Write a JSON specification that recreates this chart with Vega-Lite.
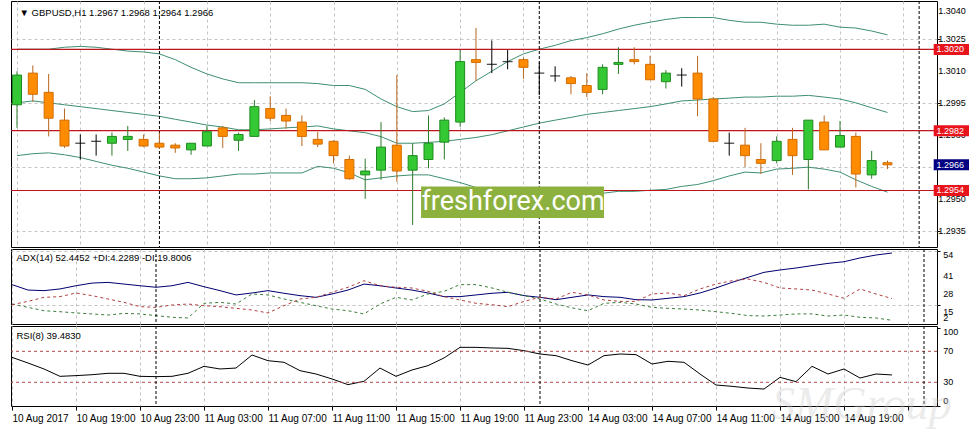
{
  "$schema": "https://vega.github.io/schema/vega-lite/v6.json",
  "background": "#ffffff",
  "padding": {"left": 9, "top": 0, "right": 0, "bottom": 0},
  "spacing": 0,
  "config": {
    "view": {"stroke": "#000000", "strokeWidth": 1},
    "axis": {"labelFont": "Liberation Sans", "labelFontSize": 10, "labelColor": "#000000", "tickColor": "#000000", "tickSize": 3, "domain": false, "gridColor": "#c4c4c4", "gridDash": [3, 3], "labelPadding": 2},
    "text": {"font": "Liberation Sans"}
  },
  "datasets": {
    "candles": [
      {"i":0,"o":1.29941,"h":1.30098,"l":1.29833,"c":1.30080},
      {"i":1,"o":1.30089,"h":1.30125,"l":1.29954,"c":1.29990},
      {"i":2,"o":1.29999,"h":1.30085,"l":1.29793,"c":1.29878},
      {"i":3,"o":1.29869,"h":1.29923,"l":1.29739,"c":1.29748},
      {"i":4,"o":1.29761,"h":1.29802,"l":1.29685,"c":1.29761},
      {"i":5,"o":1.29770,"h":1.29802,"l":1.29703,"c":1.29770},
      {"i":6,"o":1.29761,"h":1.29811,"l":1.29703,"c":1.29793},
      {"i":7,"o":1.29779,"h":1.29842,"l":1.29725,"c":1.29793},
      {"i":8,"o":1.29779,"h":1.29802,"l":1.29743,"c":1.29748},
      {"i":9,"o":1.29761,"h":1.29811,"l":1.29734,"c":1.29743},
      {"i":10,"o":1.29752,"h":1.29761,"l":1.29716,"c":1.29739},
      {"i":11,"o":1.29730,"h":1.29761,"l":1.29707,"c":1.29761},
      {"i":12,"o":1.29748,"h":1.29842,"l":1.29748,"c":1.29815},
      {"i":13,"o":1.29833,"h":1.29842,"l":1.29739,"c":1.29793},
      {"i":14,"o":1.29775,"h":1.29811,"l":1.29725,"c":1.29802},
      {"i":15,"o":1.29793,"h":1.29963,"l":1.29793,"c":1.29932},
      {"i":16,"o":1.29923,"h":1.29981,"l":1.29865,"c":1.29878},
      {"i":17,"o":1.29891,"h":1.29923,"l":1.29829,"c":1.29865},
      {"i":18,"o":1.29860,"h":1.29891,"l":1.29748,"c":1.29793},
      {"i":19,"o":1.29779,"h":1.29815,"l":1.29743,"c":1.29757},
      {"i":20,"o":1.29770,"h":1.29775,"l":1.29667,"c":1.29703},
      {"i":21,"o":1.29685,"h":1.29703,"l":1.29590,"c":1.29595},
      {"i":22,"o":1.29613,"h":1.29689,"l":1.29501,"c":1.29631},
      {"i":23,"o":1.29635,"h":1.29860,"l":1.29590,"c":1.29743},
      {"i":24,"o":1.29752,"h":1.30080,"l":1.29581,"c":1.29631},
      {"i":25,"o":1.29635,"h":1.29761,"l":1.29379,"c":1.29703},
      {"i":26,"o":1.29685,"h":1.29891,"l":1.29644,"c":1.29761},
      {"i":27,"o":1.29766,"h":1.29882,"l":1.29685,"c":1.29869},
      {"i":28,"o":1.29860,"h":1.30197,"l":1.29838,"c":1.30143},
      {"i":29,"o":1.30152,"h":1.30300,"l":1.30053,"c":1.30139},
      {"i":30,"o":1.30130,"h":1.30242,"l":1.30089,"c":1.30130},
      {"i":31,"o":1.30143,"h":1.30197,"l":1.30107,"c":1.30143},
      {"i":32,"o":1.30152,"h":1.30161,"l":1.30062,"c":1.30116},
      {"i":33,"o":1.30089,"h":1.30139,"l":1.29986,"c":1.30089},
      {"i":34,"o":1.30076,"h":1.30121,"l":1.30049,"c":1.30076},
      {"i":35,"o":1.30067,"h":1.30076,"l":1.29990,"c":1.30040},
      {"i":36,"o":1.30031,"h":1.30089,"l":1.29977,"c":1.29999},
      {"i":37,"o":1.30013,"h":1.30130,"l":1.29990,"c":1.30116},
      {"i":38,"o":1.30130,"h":1.30210,"l":1.30085,"c":1.30139},
      {"i":39,"o":1.30152,"h":1.30210,"l":1.30130,"c":1.30143},
      {"i":40,"o":1.30130,"h":1.30170,"l":1.30058,"c":1.30058},
      {"i":41,"o":1.30049,"h":1.30103,"l":1.30017,"c":1.30089},
      {"i":42,"o":1.30080,"h":1.30112,"l":1.30026,"c":1.30080},
      {"i":43,"o":1.30089,"h":1.30170,"l":1.29887,"c":1.29968},
      {"i":44,"o":1.29968,"h":1.29977,"l":1.29766,"c":1.29770},
      {"i":45,"o":1.29761,"h":1.29811,"l":1.29703,"c":1.29761},
      {"i":46,"o":1.29752,"h":1.29833,"l":1.29649,"c":1.29703},
      {"i":47,"o":1.29685,"h":1.29761,"l":1.29617,"c":1.29667},
      {"i":48,"o":1.29680,"h":1.29793,"l":1.29667,"c":1.29770},
      {"i":49,"o":1.29779,"h":1.29833,"l":1.29613,"c":1.29703},
      {"i":50,"o":1.29685,"h":1.29869,"l":1.29545,"c":1.29869},
      {"i":51,"o":1.29860,"h":1.29891,"l":1.29730,"c":1.29730},
      {"i":52,"o":1.29743,"h":1.29865,"l":1.29743,"c":1.29797},
      {"i":53,"o":1.29793,"h":1.29811,"l":1.29554,"c":1.29617},
      {"i":54,"o":1.29613,"h":1.29725,"l":1.29595,"c":1.29680},
      {"i":55,"o":1.2967,"h":1.2968,"l":1.2964,"c":1.2966}
    ],
    "bands": [
      {"i":0,"up":1.30201,"mid":1.29950,"lo":1.29703},
      {"i":1,"up":1.30201,"mid":1.29959,"lo":1.29712},
      {"i":2,"up":1.30201,"mid":1.29950,"lo":1.29716},
      {"i":3,"up":1.30210,"mid":1.29941,"lo":1.29707},
      {"i":4,"up":1.30214,"mid":1.29932,"lo":1.29694},
      {"i":5,"up":1.30210,"mid":1.29923,"lo":1.29676},
      {"i":6,"up":1.30201,"mid":1.29914,"lo":1.29658},
      {"i":7,"up":1.30192,"mid":1.29905,"lo":1.29644},
      {"i":8,"up":1.30188,"mid":1.29896,"lo":1.29626},
      {"i":9,"up":1.30179,"mid":1.29887,"lo":1.29608},
      {"i":10,"up":1.30152,"mid":1.29873,"lo":1.29595},
      {"i":11,"up":1.30116,"mid":1.29860,"lo":1.29595},
      {"i":12,"up":1.30085,"mid":1.29846,"lo":1.29599},
      {"i":13,"up":1.30062,"mid":1.29837,"lo":1.29608},
      {"i":14,"up":1.30044,"mid":1.29824,"lo":1.29617},
      {"i":15,"up":1.30044,"mid":1.29824,"lo":1.29617},
      {"i":16,"up":1.30044,"mid":1.29828,"lo":1.29622},
      {"i":17,"up":1.30044,"mid":1.29833,"lo":1.29622},
      {"i":18,"up":1.30044,"mid":1.29837,"lo":1.29622},
      {"i":19,"up":1.30040,"mid":1.29842,"lo":1.29653},
      {"i":20,"up":1.30031,"mid":1.29828,"lo":1.29644},
      {"i":21,"up":1.30031,"mid":1.29819,"lo":1.29622},
      {"i":22,"up":1.30013,"mid":1.29810,"lo":1.29590},
      {"i":23,"up":1.29968,"mid":1.29792,"lo":1.29599},
      {"i":24,"up":1.29932,"mid":1.29761,"lo":1.29608},
      {"i":25,"up":1.29909,"mid":1.29761,"lo":1.29613},
      {"i":26,"up":1.29914,"mid":1.29765,"lo":1.29613},
      {"i":27,"up":1.29945,"mid":1.29770,"lo":1.29595},
      {"i":28,"up":1.29999,"mid":1.29779,"lo":1.29577},
      {"i":29,"up":1.30053,"mid":1.29788,"lo":1.29554},
      {"i":30,"up":1.30098,"mid":1.29801,"lo":1.29532},
      {"i":31,"up":1.30143,"mid":1.29819,"lo":1.29519},
      {"i":32,"up":1.30179,"mid":1.29837,"lo":1.29514},
      {"i":33,"up":1.30201,"mid":1.29855,"lo":1.29514},
      {"i":34,"up":1.30219,"mid":1.29869,"lo":1.29514},
      {"i":35,"up":1.30241,"mid":1.29882,"lo":1.29519},
      {"i":36,"up":1.30255,"mid":1.29896,"lo":1.29523},
      {"i":37,"up":1.30273,"mid":1.29905,"lo":1.29527},
      {"i":38,"up":1.30295,"mid":1.29914,"lo":1.29536},
      {"i":39,"up":1.30313,"mid":1.29923,"lo":1.29536},
      {"i":40,"up":1.30327,"mid":1.29932,"lo":1.29541},
      {"i":41,"up":1.30340,"mid":1.29945,"lo":1.29545},
      {"i":42,"up":1.30349,"mid":1.29959,"lo":1.29559},
      {"i":43,"up":1.30349,"mid":1.29963,"lo":1.29568},
      {"i":44,"up":1.30349,"mid":1.29968,"lo":1.29586},
      {"i":45,"up":1.30336,"mid":1.29972,"lo":1.29608},
      {"i":46,"up":1.30327,"mid":1.29977,"lo":1.29626},
      {"i":47,"up":1.30327,"mid":1.29977,"lo":1.29622},
      {"i":48,"up":1.30318,"mid":1.29981,"lo":1.29640},
      {"i":49,"up":1.30313,"mid":1.29981,"lo":1.29644},
      {"i":50,"up":1.30313,"mid":1.29985,"lo":1.29649},
      {"i":51,"up":1.30318,"mid":1.29977,"lo":1.29640},
      {"i":52,"up":1.30304,"mid":1.29968,"lo":1.29626},
      {"i":53,"up":1.30300,"mid":1.29950,"lo":1.29590},
      {"i":54,"up":1.30286,"mid":1.29927,"lo":1.29559},
      {"i":55,"up":1.30268,"mid":1.29905,"lo":1.29532}
    ],
    "ind": [
      {"i":0,"adx":29.8,"pdi":15.9,"mdi":15.4,"rsi":62.2},
      {"i":1,"adx":25.9,"pdi":13.5,"mdi":17.8,"rsi":54.9},
      {"i":2,"adx":25.5,"pdi":11.1,"mdi":20.7,"rsi":47.2},
      {"i":3,"adx":26.7,"pdi":10.4,"mdi":21.2,"rsi":37.7},
      {"i":4,"adx":29.0,"pdi":9.5,"mdi":23.8,"rsi":38.6},
      {"i":5,"adx":30.9,"pdi":8.8,"mdi":21.9,"rsi":39.8},
      {"i":6,"adx":31.4,"pdi":8.0,"mdi":19.5,"rsi":41.6},
      {"i":7,"adx":30.2,"pdi":9.2,"mdi":17.1,"rsi":41.6},
      {"i":8,"adx":29.0,"pdi":8.8,"mdi":14.0,"rsi":37.7},
      {"i":9,"adx":27.9,"pdi":7.6,"mdi":13.5,"rsi":37.3},
      {"i":10,"adx":29.0,"pdi":6.4,"mdi":15.2,"rsi":37.7},
      {"i":11,"adx":31.4,"pdi":5.9,"mdi":15.9,"rsi":41.6},
      {"i":12,"adx":28.3,"pdi":16.4,"mdi":14.7,"rsi":50.6},
      {"i":13,"adx":25.5,"pdi":17.1,"mdi":14.0,"rsi":47.2},
      {"i":14,"adx":22.4,"pdi":15.9,"mdi":12.8,"rsi":48.4},
      {"i":15,"adx":23.8,"pdi":23.1,"mdi":11.6,"rsi":65.2},
      {"i":16,"adx":25.5,"pdi":22.4,"mdi":9.5,"rsi":57.9},
      {"i":17,"adx":23.6,"pdi":19.5,"mdi":14.7,"rsi":55.8},
      {"i":18,"adx":21.9,"pdi":17.1,"mdi":19.5,"rsi":45.0},
      {"i":19,"adx":20.7,"pdi":14.7,"mdi":20.7,"rsi":40.7},
      {"i":20,"adx":23.1,"pdi":12.3,"mdi":24.3,"rsi":34.3},
      {"i":21,"adx":25.9,"pdi":11.1,"mdi":27.9,"rsi":27.0},
      {"i":22,"adx":30.2,"pdi":8.8,"mdi":32.6,"rsi":31.3},
      {"i":23,"adx":29.0,"pdi":15.9,"mdi":29.0,"rsi":48.4},
      {"i":24,"adx":27.4,"pdi":20.7,"mdi":27.9,"rsi":37.7},
      {"i":25,"adx":25.9,"pdi":18.8,"mdi":27.4,"rsi":45.9},
      {"i":26,"adx":23.8,"pdi":23.1,"mdi":25.0,"rsi":51.5},
      {"i":27,"adx":21.2,"pdi":25.0,"mdi":21.2,"rsi":61.4},
      {"i":28,"adx":21.2,"pdi":29.8,"mdi":18.8,"rsi":75.1},
      {"i":29,"adx":22.4,"pdi":29.8,"mdi":16.4,"rsi":75.1},
      {"i":30,"adx":23.6,"pdi":27.4,"mdi":15.4,"rsi":74.3},
      {"i":31,"adx":24.3,"pdi":24.3,"mdi":14.0,"rsi":73.8},
      {"i":32,"adx":21.9,"pdi":21.9,"mdi":17.8,"rsi":70.8},
      {"i":33,"adx":20.7,"pdi":19.5,"mdi":20.7,"rsi":66.5},
      {"i":34,"adx":19.0,"pdi":15.9,"mdi":19.5,"rsi":64.4},
      {"i":35,"adx":20.7,"pdi":13.1,"mdi":24.3,"rsi":57.9},
      {"i":36,"adx":22.4,"pdi":11.1,"mdi":22.4,"rsi":52.3},
      {"i":37,"adx":21.2,"pdi":16.4,"mdi":18.8,"rsi":64.4},
      {"i":38,"adx":20.7,"pdi":17.1,"mdi":17.8,"rsi":66.5},
      {"i":39,"adx":19.0,"pdi":15.9,"mdi":17.8,"rsi":65.7},
      {"i":40,"adx":18.8,"pdi":13.5,"mdi":23.1,"rsi":53.6},
      {"i":41,"adx":20.0,"pdi":12.8,"mdi":23.8,"rsi":57.1},
      {"i":42,"adx":21.2,"pdi":12.3,"mdi":21.9,"rsi":55.8},
      {"i":43,"adx":23.8,"pdi":11.6,"mdi":26.7,"rsi":40.7},
      {"i":44,"adx":27.4,"pdi":10.4,"mdi":30.2,"rsi":26.5},
      {"i":45,"adx":31.4,"pdi":9.2,"mdi":32.6,"rsi":24.8},
      {"i":46,"adx":35.0,"pdi":7.6,"mdi":33.8,"rsi":22.6},
      {"i":47,"adx":38.6,"pdi":7.3,"mdi":31.4,"rsi":21.3},
      {"i":48,"adx":40.3,"pdi":8.0,"mdi":27.4,"rsi":36.4},
      {"i":49,"adx":41.7,"pdi":8.8,"mdi":26.7,"rsi":30.8},
      {"i":50,"adx":43.4,"pdi":8.8,"mdi":25.9,"rsi":50.6},
      {"i":51,"adx":45.0,"pdi":7.3,"mdi":23.1,"rsi":40.7},
      {"i":52,"adx":46.2,"pdi":8.0,"mdi":20.0,"rsi":47.2},
      {"i":53,"adx":48.9,"pdi":6.4,"mdi":26.7,"rsi":35.5},
      {"i":54,"adx":51.0,"pdi":5.9,"mdi":23.1,"rsi":40.7},
      {"i":55,"adx":52.4452,"pdi":4.2289,"mdi":19.8006,"rsi":39.483}
    ],
    "levels": [
      {"p":1.3020,"kind":"level"},
      {"p":1.2982,"kind":"level"},
      {"p":1.2954,"kind":"level"},
      {"p":1.2966,"kind":"bid"}
    ],
    "priceticks": [{"v":1.2935},{"v":1.295},{"v":1.2965},{"v":1.298},{"v":1.2995},{"v":1.301},{"v":1.3025},{"v":1.304}],
    "adxticks": [{"v":54},{"v":41},{"v":28},{"v":15},{"v":2}],
    "rsiticks": [{"v":100},{"v":70},{"v":30},{"v":0}],
    "seps": [{"i":9},{"i":33},{"i":57}],
    "rsilev": [{"v":70},{"v":30}]
  },
  "vconcat": [
    {
      "width": 926,
      "height": 246,
      "layer": [
        {
          "data": {"name": "bands"},
          "mark": {"type": "line", "color": "#3f8f6f", "strokeWidth": 1, "clip": true},
          "encoding": {
            "x": {"field": "i", "type": "quantitative", "scale": {"domain": [-0.0625, 57.8125], "nice": false, "zero": false},
                  "axis": {"orient": "bottom", "values": [0,2,4,6,8,10,12,14,16,18,20,22,24,26,28,30,32,34,36,38,40,42,44,46,48,50,52,54,56], "grid": true, "labels": false, "ticks": false, "domain": false, "title": null}},
            "y": {"field": "up", "type": "quantitative", "scale": {"domain": [1.29299, 1.30403], "nice": false, "zero": false},
                  "axis": {"orient": "right", "values": [1.2935, 1.295, 1.2965, 1.298, 1.2995, 1.301, 1.3025, 1.304], "grid": true, "labels": false, "title": null}}
          }
        },
        {
          "data": {"name": "bands"},
          "mark": {"type": "line", "color": "#3f8f6f", "strokeWidth": 1, "clip": true},
          "encoding": {"x": {"field": "i", "type": "quantitative"}, "y": {"field": "mid", "type": "quantitative"}}
        },
        {
          "data": {"name": "bands"},
          "mark": {"type": "line", "color": "#3f8f6f", "strokeWidth": 1, "clip": true},
          "encoding": {"x": {"field": "i", "type": "quantitative"}, "y": {"field": "lo", "type": "quantitative"}}
        },
        {
          "data": {"name": "levels"},
          "transform": [{"filter": "datum.kind == 'level'"}],
          "mark": {"type": "rule", "color": "#c0141c", "strokeWidth": 1.2},
          "encoding": {"y": {"field": "p", "type": "quantitative"}}
        },
        {
          "data": {"name": "seps"},
          "mark": {"type": "rule", "color": "#000000", "strokeWidth": 1, "strokeDash": [3, 2]},
          "encoding": {"x": {"field": "i", "type": "quantitative"}}
        },
        {
          "data": {"name": "candles"},
          "mark": {"type": "rule", "strokeWidth": 1, "clip": true},
          "encoding": {
            "x": {"field": "i", "type": "quantitative"},
            "y": {"field": "l", "type": "quantitative"},
            "y2": {"field": "h"},
            "color": {"condition": [{"test": "datum.c > datum.o", "value": "#2a7a2a"}, {"test": "datum.c < datum.o", "value": "#b8661e"}], "value": "#000000"}
          }
        },
        {
          "data": {"name": "candles"},
          "transform": [{"filter": "datum.o != datum.c"}],
          "mark": {"type": "bar", "width": 9, "strokeWidth": 1, "clip": true},
          "encoding": {
            "x": {"field": "i", "type": "quantitative"},
            "y": {"field": "o", "type": "quantitative"},
            "y2": {"field": "c"},
            "fill": {"condition": {"test": "datum.c > datum.o", "value": "#34c934"}, "value": "#ff8c00"},
            "stroke": {"condition": {"test": "datum.c > datum.o", "value": "#1f8a1f"}, "value": "#d26c00"}
          }
        },
        {
          "data": {"name": "candles"},
          "transform": [{"filter": "datum.o == datum.c"}],
          "mark": {"type": "tick", "orient": "horizontal", "size": 10, "thickness": 1.3, "color": "#000000", "clip": true},
          "encoding": {
            "x": {"field": "i", "type": "quantitative"},
            "y": {"field": "o", "type": "quantitative"}
          }
        },
        {
          "data": {"values": [{"label": "freshforex.com"}]},
          "mark": {"type": "rect", "color": "#8db13e"},
          "encoding": {
            "x": {"datum": 25.53, "type": "quantitative"},
            "x2": {"datum": 37.09},
            "y": {"datum": 1.29559, "type": "quantitative"},
            "y2": {"datum": 1.29411}
          }
        },
        {
          "data": {"values": [{"label": "freshforex.com"}]},
          "mark": {"type": "text", "color": "#ffffff", "font": "Roboto", "fontSize": 27, "align": "center", "baseline": "middle"},
          "encoding": {
            "x": {"datum": 31.34, "type": "quantitative"},
            "y": {"datum": 1.29485, "type": "quantitative"},
            "text": {"field": "label"}
          }
        },
        {
          "data": {"name": "priceticks"},
          "transform": [{"filter": "datum.v < 1.3035"}],
          "mark": {"type": "text", "align": "left", "baseline": "middle", "fontSize": 9, "color": "#000000"},
          "encoding": {
            "x": {"datum": 58.2, "type": "quantitative"},
            "y": {"field": "v", "type": "quantitative"},
            "text": {"field": "v", "format": ".4f"}
          }
        },
        {
          "data": {"name": "priceticks"},
          "transform": [{"filter": "datum.v > 1.3035"}],
          "mark": {"type": "text", "align": "left", "baseline": "top", "fontSize": 9, "color": "#000000"},
          "encoding": {
            "x": {"datum": 58.2, "type": "quantitative"},
            "y": {"field": "v", "type": "quantitative"},
            "text": {"field": "v", "format": ".4f"}
          }
        },
        {
          "data": {"name": "levels"},
          "mark": {"type": "bar", "height": 11, "orient": "horizontal"},
          "encoding": {
            "x": {"datum": 57.92, "type": "quantitative"},
            "x2": {"datum": 60.5},
            "y": {"field": "p", "type": "quantitative"},
            "color": {"condition": {"test": "datum.kind == 'bid'", "value": "#000080"}, "value": "#e8141c"}
          }
        },
        {
          "data": {"name": "levels"},
          "mark": {"type": "text", "align": "left", "baseline": "middle", "fontSize": 9, "color": "#ffffff"},
          "encoding": {
            "x": {"datum": 58.1, "type": "quantitative"},
            "y": {"field": "p", "type": "quantitative"},
            "text": {"field": "p", "format": ".4f"}
          }
        },
        {
          "data": {"values": [{"label": "▼  GBPUSD,H1  1.2967 1.2968 1.2964 1.2966"}]},
          "mark": {"type": "text", "align": "left", "baseline": "middle", "fontSize": 9.5, "color": "#000000"},
          "encoding": {
            "x": {"datum": 0.16, "type": "quantitative"},
            "y": {"datum": 1.30372, "type": "quantitative"},
            "text": {"field": "label"}
          }
        }
      ]
    },
    {
      "width": 926,
      "height": 75,
      "layer": [
        {
          "data": {"name": "ind"},
          "mark": {"type": "line", "color": "#000070", "strokeWidth": 1},
          "encoding": {
            "x": {"field": "i", "type": "quantitative", "scale": {"domain": [-0.0625, 57.8125], "nice": false, "zero": false},
                  "axis": {"orient": "bottom", "values": [0,2,4,6,8,10,12,14,16,18,20,22,24,26,28,30,32,34,36,38,40,42,44,46,48,50,52,54,56], "grid": true, "labels": false, "ticks": false, "domain": false, "title": null}},
            "y": {"field": "adx", "type": "quantitative", "scale": {"domain": [1.59, 55.32], "nice": false, "zero": false},
                  "axis": {"orient": "right", "values": [54, 41, 28, 15], "grid": true, "labels": false, "title": null}}
          }
        },
        {
          "data": {"name": "ind"},
          "mark": {"type": "line", "color": "#3a7d3a", "strokeWidth": 1, "strokeDash": [3, 3]},
          "encoding": {"x": {"field": "i", "type": "quantitative"}, "y": {"field": "pdi", "type": "quantitative"}}
        },
        {
          "data": {"name": "ind"},
          "mark": {"type": "line", "color": "#b04040", "strokeWidth": 1, "strokeDash": [3, 3]},
          "encoding": {"x": {"field": "i", "type": "quantitative"}, "y": {"field": "mdi", "type": "quantitative"}}
        },
        {
          "data": {"name": "seps"},
          "mark": {"type": "rule", "color": "#000000", "strokeWidth": 1, "strokeDash": [3, 2]},
          "encoding": {"x": {"field": "i", "type": "quantitative"}}
        },
        {
          "data": {"name": "adxticks"},
          "transform": [{"filter": "datum.v > 50"}],
          "mark": {"type": "text", "align": "left", "baseline": "top", "fontSize": 9, "color": "#000000"},
          "encoding": {
            "x": {"datum": 58.2, "type": "quantitative"},
            "y": {"field": "v", "type": "quantitative"},
            "text": {"field": "v"}
          }
        },
        {
          "data": {"name": "adxticks"},
          "transform": [{"filter": "datum.v > 5 && datum.v < 50"}],
          "mark": {"type": "text", "align": "left", "baseline": "top", "dy": 3, "fontSize": 9, "color": "#000000"},
          "encoding": {
            "x": {"datum": 58.2, "type": "quantitative"},
            "y": {"field": "v", "type": "quantitative"},
            "text": {"field": "v"}
          }
        },
        {
          "data": {"name": "adxticks"},
          "transform": [{"filter": "datum.v < 5"}],
          "mark": {"type": "text", "align": "left", "baseline": "bottom", "fontSize": 9, "color": "#000000"},
          "encoding": {
            "x": {"datum": 58.2, "type": "quantitative"},
            "y": {"field": "v", "type": "quantitative"},
            "text": {"field": "v"}
          }
        },
        {
          "data": {"values": [{"label": "ADX(14) 52.4452 +DI:4.2289 -DI:19.8006"}]},
          "mark": {"type": "text", "align": "left", "baseline": "middle", "fontSize": 9.5, "color": "#000000"},
          "encoding": {
            "x": {"datum": 0.28, "type": "quantitative"},
            "y": {"datum": 48.65, "type": "quantitative"},
            "text": {"field": "label"}
          }
        }
      ]
    },
    {
      "width": 926,
      "height": 80,
      "layer": [
        {
          "data": {"name": "ind"},
          "mark": {"type": "line", "color": "#000000", "strokeWidth": 1},
          "encoding": {
            "x": {"field": "i", "type": "quantitative", "scale": {"domain": [-0.0625, 57.8125], "nice": false, "zero": false},
                  "axis": {"orient": "bottom", "values": [0,2,4,6,8,10,12,14,16,18,20,22,24,26,28,30,32,34,36,38,40,42,44,46,48,50,52,54,56], "grid": true, "domain": false, "title": null,
                           "labelExpr": "datum.value % 4 == 0 ? ['10 Aug 2017','10 Aug 19:00','10 Aug 23:00','11 Aug 03:00','11 Aug 07:00','11 Aug 11:00','11 Aug 15:00','11 Aug 19:00','11 Aug 23:00','14 Aug 03:00','14 Aug 07:00','14 Aug 11:00','14 Aug 15:00','14 Aug 19:00'][datum.value / 4] : ''",
                           "labelAlign": "left", "labelFlush": false, "labelPadding": 3, "tickSize": 4,
                           "tickOpacity": {"condition": {"test": "datum.value % 4 != 0", "value": 0}, "value": 1}}},
            "y": {"field": "rsi", "type": "quantitative", "scale": {"domain": [-0.58, 102.65], "nice": false, "zero": false},
                  "axis": {"orient": "right", "values": [100, 70, 30, 0], "grid": false, "labels": false, "title": null}}
          }
        },
        {
          "data": {"name": "rsilev"},
          "mark": {"type": "rule", "color": "#b04848", "strokeWidth": 1, "strokeDash": [3, 3]},
          "encoding": {"y": {"field": "v", "type": "quantitative"}}
        },
        {
          "data": {"name": "seps"},
          "mark": {"type": "rule", "color": "#000000", "strokeWidth": 1, "strokeDash": [3, 2]},
          "encoding": {"x": {"field": "i", "type": "quantitative"}}
        },
        {
          "data": {"name": "rsiticks"},
          "transform": [{"filter": "datum.v == 100"}],
          "mark": {"type": "text", "align": "left", "baseline": "top", "fontSize": 9, "color": "#000000"},
          "encoding": {
            "x": {"datum": 58.2, "type": "quantitative"},
            "y": {"field": "v", "type": "quantitative"},
            "text": {"field": "v"}
          }
        },
        {
          "data": {"name": "rsiticks"},
          "transform": [{"filter": "datum.v > 0 && datum.v < 100"}],
          "mark": {"type": "text", "align": "left", "baseline": "middle", "fontSize": 9, "color": "#000000"},
          "encoding": {
            "x": {"datum": 58.2, "type": "quantitative"},
            "y": {"field": "v", "type": "quantitative"},
            "text": {"field": "v"}
          }
        },
        {
          "data": {"name": "rsiticks"},
          "transform": [{"filter": "datum.v == 0"}],
          "mark": {"type": "text", "align": "left", "baseline": "bottom", "fontSize": 9, "color": "#000000"},
          "encoding": {
            "x": {"datum": 58.2, "type": "quantitative"},
            "y": {"field": "v", "type": "quantitative"},
            "text": {"field": "v"}
          }
        },
        {
          "data": {"values": [{"label": "RSI(8) 39.4830"}]},
          "mark": {"type": "text", "align": "left", "baseline": "middle", "fontSize": 9.5, "color": "#000000"},
          "encoding": {
            "x": {"datum": 0.28, "type": "quantitative"},
            "y": {"datum": 90.1, "type": "quantitative"},
            "text": {"field": "label"}
          }
        },
        {
          "data": {"values": [{"label": "SMGroup"}]},
          "mark": {"type": "text", "align": "left", "baseline": "alphabetic", "font": "Liberation Serif", "fontStyle": "italic", "fontSize": 46, "color": "#c8c8c8", "opacity": 0.35},
          "encoding": {
            "x": {"datum": 47.5, "type": "quantitative"},
            "y": {"datum": -18, "type": "quantitative"},
            "text": {"field": "label"}
          }
        }
      ]
    }
  ]
}
